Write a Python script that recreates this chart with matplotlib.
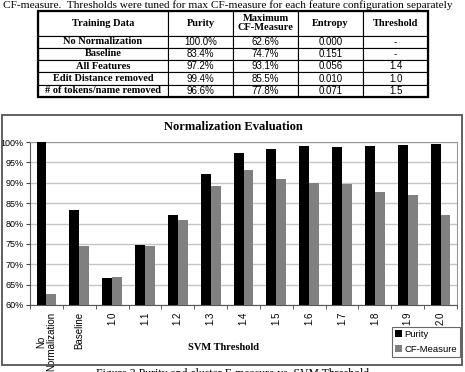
import numpy as np
import matplotlib
matplotlib.use('Agg')
import matplotlib.pyplot as plt
from matplotlib.patches import Rectangle
from matplotlib.ticker import FixedLocator, PercentFormatter

# table data
col_labels = ['Training Data', 'Purity', 'Maximum\nCF-Measure', 'Entropy', 'Threshold']
row_names = ['No Normalization', 'Baseline', 'All Features',
             'Edit Distance removed', '# of tokens/name removed']
tab_purity = ['100.0%', '83.4%', '97.2%', '99.4%', '96.6%']
tab_cf = ['62.6%', '74.7%', '93.1%', '85.5%', '77.8%']
tab_entropy = ['0.000', '0.151', '0.056', '0.010', '0.071']
tab_thresh = ['-', '-', '1.4', '1.0', '1.5']

# chart data
categories = ['No\nNormalization', 'Baseline', '1.0', '1.1', '1.2', '1.3', '1.4',
              '1.5', '1.6', '1.7', '1.8', '1.9', '2.0']
purity = [100.0, 83.4, 66.6, 74.8, 82.1, 92.2, 97.3, 98.4, 98.9, 98.8, 99.0, 99.2, 99.6]
cf_measure = [62.7, 74.6, 66.9, 74.4, 80.9, 89.3, 93.2, 91.0, 90.0, 89.6, 87.8, 87.0, 82.0]

serif = 'Liberation Serif'
sans = 'Liberation Sans'

W, H = 465, 372
fig = plt.figure(figsize=(W / 100, H / 100), dpi=100)

# caption from the page above (cut at the top)
fig.text(228 / W, 1 - 5 / H, 'CF-measure.  Thresholds were tuned for max CF-measure for each feature configuration separately',
         ha='center', va='center', family=serif, fontsize=8.1)

# ---- table ----
tax = fig.add_axes([38 / W, 1 - 97 / H, 390 / W, 86.5 / H])
tax.axis('off')
cells = [[row_names[i], tab_purity[i], tab_cf[i], tab_entropy[i], tab_thresh[i]]
         for i in range(len(row_names))]
tbl = tax.table(cellText=cells, colLabels=col_labels,
                colWidths=[130, 65, 65, 65, 65], bbox=[0, 0, 1, 1], cellLoc='center')
tbl.auto_set_font_size(False)
for (r, c), cell in tbl.get_celld().items():
    cell.set_linewidth(0.8)
    cell.set_height(25 if r == 0 else 12.3)
    txt = cell.get_text()
    if r == 0 or c == 0:
        txt.set_fontfamily(serif)
        txt.set_fontweight('bold')
        txt.set_fontsize(7.5)
    else:
        txt.set_fontfamily(sans)
        txt.set_fontsize(7)
    if r == 0:
        txt.set_linespacing(1.0)
# outer frame of table a bit heavier
tax.add_patch(Rectangle((0, 0), 1, 1, transform=tax.transAxes, fill=False,
                        lw=1.6, ec='black', clip_on=False, zorder=5))

# ---- chart frame ----
fig.patches.append(Rectangle((2 / W, 1 - 365 / H), 460 / W, 250 / H, transform=fig.transFigure,
                             fill=False, ec='#555555', lw=1.3))

ax = fig.add_axes([30 / W, 1 - 305 / H, 427 / W, 163 / H])
x = np.arange(len(categories))
bw = 0.3
ax.bar(x - bw / 2, purity, bw, color='black', label='Purity', zorder=3)
ax.bar(x + bw / 2, cf_measure, bw, color='#808080', label='CF-Measure', zorder=3)

ax.set_xlim(-0.5, len(categories) - 0.5)
ax.set_ylim(60, 100)
ax.yaxis.set_major_locator(FixedLocator(np.arange(60, 101, 5)))
ax.yaxis.set_major_formatter(PercentFormatter(decimals=0))
ax.grid(axis='y', color='#c4c4c4', lw=1.0, zorder=0)

ax.set_xticks(x)
ax.set_xticklabels(categories, rotation=90, family=sans, fontsize=7, va='top', ha='center',
                   linespacing=1.0)
ax.tick_params(axis='x', length=0, pad=5)
ax.set_xticks(np.arange(-0.5, len(categories), 1), minor=True)
ax.tick_params(axis='x', which='minor', length=3, direction='out', color='#444444')
ax.tick_params(axis='y', length=3, direction='out', pad=1.5, labelsize=6.5, color='#444444')
for lab in ax.get_yticklabels():
    lab.set_fontfamily(sans)

for s in ['left', 'bottom']:
    ax.spines[s].set_color('#555555')
for s in ['top', 'right']:
    ax.spines[s].set_color('#999999')

fig.text(233 / W, 1 - 127 / H, 'Normalization Evaluation', ha='center', va='center',
         family=serif, fontweight='bold', fontsize=9)
fig.text(223 / W, 1 - 348 / H, 'SVM Threshold', ha='center', va='center',
         family=serif, fontweight='bold', fontsize=7.5)

leg = fig.legend(loc='lower left', bbox_to_anchor=(392 / W, 1 - 357 / H), frameon=True,
                 fancybox=False, edgecolor='#444444', prop={'family': sans, 'size': 6.8},
                 handlelength=0.75, handleheight=0.75, handletextpad=0.25, borderpad=0.3,
                 labelspacing=0.7, borderaxespad=0)
leg.get_frame().set_linewidth(0.8)

# figure caption below chart (cut at the bottom as on the page)
fig.text(0.5, 1 - 367.5 / H, 'Figure 3 Purity and cluster F-measure vs. SVM Threshold',
         ha='center', va='top', family=serif, fontsize=8.5)

fig.savefig('out.png', dpi=100)
